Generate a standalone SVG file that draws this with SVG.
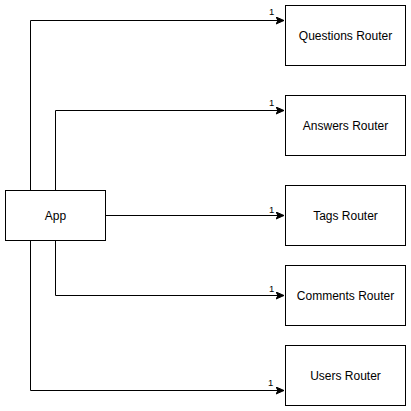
<svg xmlns="http://www.w3.org/2000/svg" width="411" height="411" viewBox="0 0 411 411">
<style>
.box{fill:#fff;stroke:#000;stroke-width:1}
.lbl{font-family:"Liberation Sans",Arial,sans-serif;font-size:12px;fill:#000;text-anchor:middle;dominant-baseline:central}
.edge{fill:none;stroke:#000;stroke-width:1}
.num{font-family:"Liberation Sans",Arial,sans-serif;font-size:9.5px;fill:#000}
</style>
<defs>
<marker id="arr" markerWidth="10" markerHeight="10" refX="8" refY="4" orient="auto" markerUnits="userSpaceOnUse">
<path d="M0,0.5 L8,4 L0,7.5 L2,4 Z" fill="#000" stroke="#000" stroke-width="1"/>
</marker>
</defs>
<rect width="411" height="411" fill="#fff"/>
<g id="connectors">
<path class="edge" d="M30.5,190 V20.5 H284" marker-end="url(#arr)"/>
<path class="edge" d="M55.5,190 V110.5 H284" marker-end="url(#arr)"/>
<path class="edge" d="M105,215.5 H284" marker-end="url(#arr)"/>
<path class="edge" d="M55.5,240 V295.5 H284" marker-end="url(#arr)"/>
<path class="edge" d="M30.5,240 V390.5 H284" marker-end="url(#arr)"/>
<text class="num" x="269" y="15">1</text>
<text class="num" x="269" y="106">1</text>
<text class="num" x="269" y="213">1</text>
<text class="num" x="269" y="292">1</text>
<text class="num" x="268" y="386">1</text>
</g>
<g id="app"><rect class="box" x="5.5" y="190.5" width="100" height="50"/><text class="lbl" x="55.5" y="215.5">App</text></g>
<g id="questions"><rect class="box" x="285.5" y="5.5" width="120" height="60"/><text class="lbl" x="345.5" y="35.5">Questions Router</text></g>
<g id="answers"><rect class="box" x="285.5" y="95.5" width="120" height="60"/><text class="lbl" x="345.5" y="125.5">Answers Router</text></g>
<g id="tags"><rect class="box" x="285.5" y="185.5" width="120" height="60"/><text class="lbl" x="345.5" y="215.5">Tags Router</text></g>
<g id="comments"><rect class="box" x="285.5" y="265.5" width="120" height="60"/><text class="lbl" x="345.5" y="295.5">Comments Router</text></g>
<g id="users"><rect class="box" x="285.5" y="345.5" width="120" height="60"/><text class="lbl" x="345.5" y="375.5">Users Router</text></g>
</svg>
